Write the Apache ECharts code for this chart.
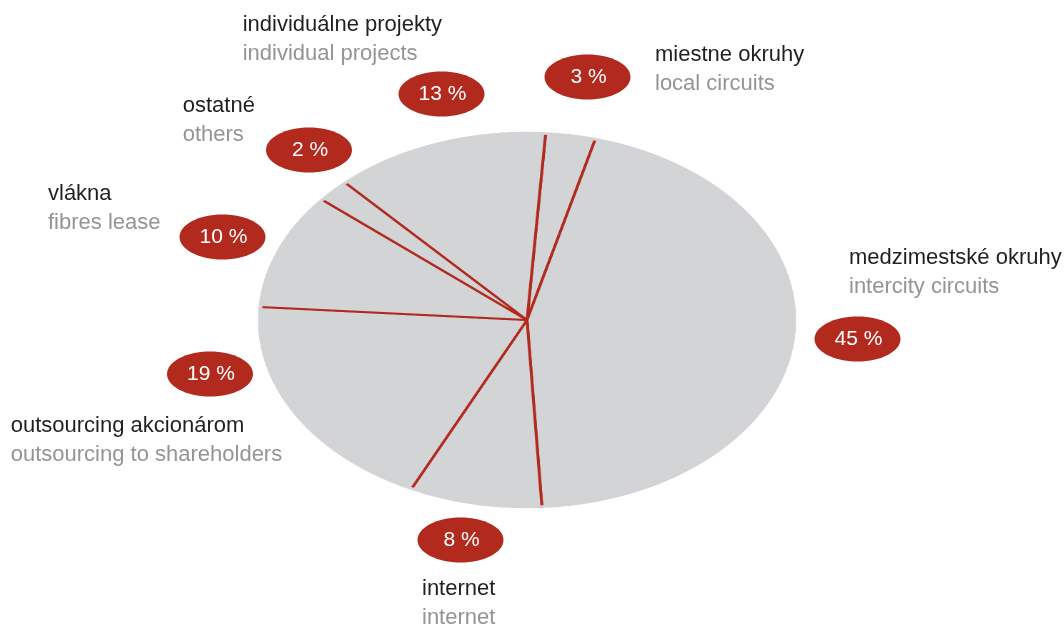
<!DOCTYPE html>
<html>
<head>
<meta charset="utf-8">
<script src="https://cdn.jsdelivr.net/npm/echarts@6/dist/echarts.min.js"></script>
<style>
  html, body { margin:0; padding:0; background:#ffffff; }
  #wrap { position:relative; width:1064px; height:626px; overflow:hidden; background:#fff; }
  #pie { position:absolute; left:327px; top:119.5px; width:400px; height:400px;
         transform:scaleX(1.4293); transform-origin:50% 50%; }
  #labels { position:absolute; left:0; top:0; width:1064px; height:626px; }
</style>
</head>
<body>
<div id="wrap">
  <div id="pie"></div>
  <div id="labels"></div>
</div>
<script>
// ---- data ----
const categoriesSk = ['miestne okruhy', 'medzimestské okruhy', 'internet', 'outsourcing akcionárom', 'vlákna', 'ostatné', 'individuálne projekty'];
const categoriesEn = ['local circuits', 'intercity circuits', 'internet', 'outsourcing to shareholders', 'fibres lease', 'others', 'individual projects'];
const shares = [3, 45, 8, 19, 10, 2, 13];

// ---- layout (positions only) ----
const badgeCenters = [[587.5,77],[857.5,339],[460.5,540],[210,374],[222.5,237],[309,150],[441.5,94]];
const labelAnchors = [[655,63],[849,266],[422,597],[10.7,434],[48,202],[182.7,114],[242.7,33]];

const RED = '#b2291e';
const GREY_FILL = '#d3d4d6';
const TXT_DARK = '#231f20';
const TXT_GREY = '#929497';
const FONT = '"Liberation Sans", Arial, Helvetica, sans-serif';

// ---- pie (scaled horizontally into an ellipse) ----
const pie = echarts.init(document.getElementById('pie'), null, {renderer:'canvas', devicePixelRatio:2});
pie.setOption({
  animation:false,
  series:[
    {
      type:'pie',
      radius:187,
      center:['50%','50%'],
      startAngle:86,
      clockwise:true,
      silent:true,
      label:{show:false},
      labelLine:{show:false},
      emphasis:{disabled:true},
      itemStyle:{color:GREY_FILL, borderColor:RED, borderWidth:2, borderJoin:'round'},
      data: shares.map((v,i)=>({name:categoriesSk[i], value:v}))
    },
    {
      type:'pie',
      radius:[185.6, 188.2],
      center:['50%','50%'],
      silent:true,
      z:5,
      label:{show:false},
      labelLine:{show:false},
      emphasis:{disabled:true},
      itemStyle:{color:GREY_FILL, borderWidth:0},
      data:[{value:1, name:'rim'}]
    }
  ]
});

// ---- labels and badges ----
const labels = echarts.init(document.getElementById('labels'), null, {renderer:'canvas'});
const elements = [];
shares.forEach((v,i)=>{
  const [cx, cy] = badgeCenters[i];
  const [lx, ly] = labelAnchors[i];
  elements.push({type:'ellipse', shape:{cx:cx, cy:cy, rx:43, ry:22.5}, style:{fill:RED}, silent:true});
  elements.push({type:'text', x:cx+1, y:cy, style:{text:v + ' %', fill:'#ffffff', font:'21px ' + FONT, align:'center', verticalAlign:'middle'}, silent:true});
  elements.push({type:'text', x:lx, y:ly-7.6, style:{text:categoriesSk[i], fill:TXT_DARK, font:'22px ' + FONT, align:'left', verticalAlign:'middle'}, silent:true});
  elements.push({type:'text', x:lx, y:ly+28.5-7.6, style:{text:categoriesEn[i], fill:TXT_GREY, font:'22px ' + FONT, align:'left', verticalAlign:'middle'}, silent:true});
});
labels.setOption({animation:false, graphic:{elements:elements}});
</script>
</body>
</html>
